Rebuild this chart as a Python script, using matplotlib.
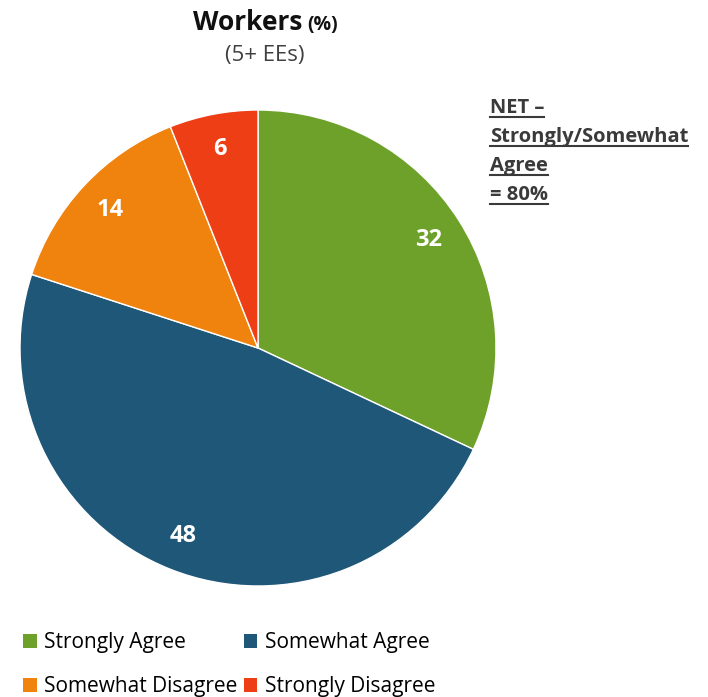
import matplotlib.pyplot as plt
from matplotlib.patches import Patch
from matplotlib.lines import Line2D

plt.rcParams['font.family'] = ['Open Sans', 'DejaVu Sans']

# data
categories = ["Strongly Agree", "Somewhat Agree", "Somewhat Disagree", "Strongly Disagree"]
values = [32, 48, 14, 6]
colors = ["#6EA12A", "#1F5779", "#F0820E", "#EE3E15"]
net_lines = ["NET \u2013", "Strongly/Somewhat", "Agree", "= 80%"]

W, H = 708, 697
fig = plt.figure(figsize=(W / 100, H / 100), dpi=100)

# pie axes placed in pixel coords (center 258,348 ; radius 238)
cx, cy, r = 258, 348, 238
ax = fig.add_axes([(cx - r) / W, (H - cy - r) / H, 2 * r / W, 2 * r / H])
wedges, texts, autotexts = ax.pie(values, colors=colors, startangle=90, counterclock=False,
                                  autopct=lambda p: f"{p:.0f}", pctdistance=0.85,
                                  wedgeprops=dict(linewidth=1, edgecolor="white"))
for t in autotexts:
    t.set_color("white")
    t.set_fontsize(17)
    t.set_fontweight("bold")
ax.set_xlim(-1, 1)
ax.set_ylim(-1, 1)
ax.set_aspect("equal")

# title
fig.text(302 / W, 1 - 23 / H, "Workers", ha="right", va="center",
         fontsize=19, fontweight="bold", color="#111111")
fig.text(307 / W, 1 - 25 / H, "(%)", ha="left", va="center",
         fontsize=14, fontweight="bold", color="#111111")
fig.text(265 / W, 1 - 55 / H, "(5+ EEs)", ha="center", va="center",
         fontsize=16, color="#404040")

# NET annotation, underlined
net_texts = []
for i, line in enumerate(net_lines):
    t = fig.text(490 / W, 1 - (108 + i * 29) / H, line, ha="left", va="center",
                 fontsize=14.5, fontweight="bold", color="#3a3a3a")
    net_texts.append(t)

fig.canvas.draw()
rend = fig.canvas.get_renderer()
for t in net_texts:
    bb = t.get_window_extent(renderer=rend)
    y = (bb.y0 + 1) / H
    fig.add_artist(Line2D([bb.x0 / W, bb.x1 / W], [y, y], color="#3a3a3a", lw=1.5))

# legend, row-wise order
order = [0, 2, 1, 3]
handles = [Patch(facecolor=colors[i], edgecolor="none") for i in order]
labels = [categories[i] for i in order]
fig.legend(handles, labels, ncol=2, loc="upper left", bbox_to_anchor=(15 / W, 1 - 624 / H),
           frameon=False, fontsize=15, handlelength=0.65, handleheight=0.65,
           handletextpad=0.35, columnspacing=0.3, labelspacing=1.1, borderaxespad=0)

plt.savefig("out.png", dpi=100)
